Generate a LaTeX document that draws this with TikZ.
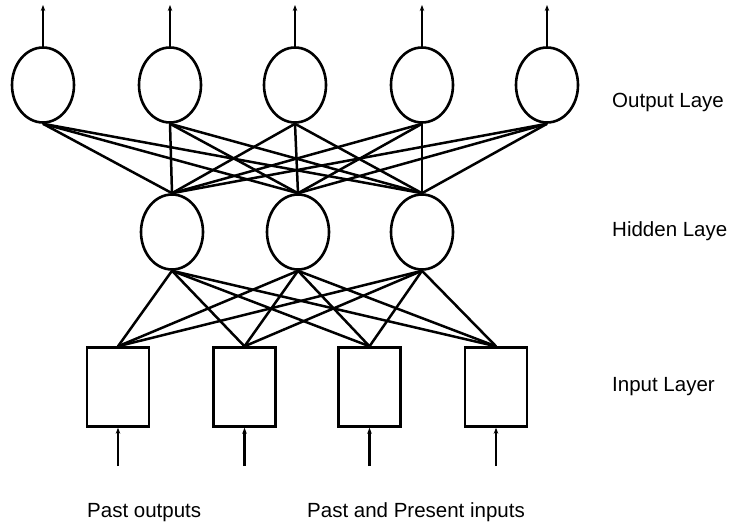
\documentclass[tikz,border=0pt]{standalone}
\usepackage{fontspec}
\setmainfont{Liberation Sans}
\usetikzlibrary{arrows.meta,shapes.geometric}
\begin{document}
\begin{tikzpicture}[x=1pt,y=-1pt,
  neuron/.style={draw,line width=2.6pt,ellipse,minimum width=62pt,minimum height=75pt,inner sep=0pt},
  inbox/.style={draw,line width=2.4pt,rectangle,minimum width=62pt,minimum height=79pt,inner sep=0pt},
  wire/.style={line width=2.5pt},
  sig/.style={line width=2.5pt,-{Stealth[length=6pt,width=4.5pt]}},
  lbl/.style={font=\fontsize{20.5}{24}\selectfont,anchor=base west,inner sep=0pt}]
\useasboundingbox (0,0) rectangle (731,526);
% output layer
\foreach \i/\x in {1/43,2/170,3/295,4/422,5/547}{
  \node[neuron] (o\i) at (\x,85) {};
  \coordinate (ot\i) at (\x,5);
  \draw[sig] (o\i.north) -- (ot\i);
}
% hidden layer
\foreach \i/\x in {1/172,2/298,3/422}{
  \node[neuron] (h\i) at (\x,232) {};
}
% input layer
\foreach \i/\x in {1/118,2/244.5,3/369.5,4/496}{
  \node[inbox] (b\i) at (\x,387) {};
  \coordinate (bi\i) at (\x,466);
  \draw[sig] (bi\i) -- (b\i.south);
}
% connections
\foreach \i in {1,...,5}{
  \foreach \j in {1,2,3}{
    \draw[wire] (o\i.south) -- (h\j.north);
  }
}
\foreach \j in {1,2,3}{
  \foreach \k in {1,...,4}{
    \draw[wire] (h\j.south) -- (b\k.north);
  }
}
% labels
\node[lbl] (lo) at (612,108) {Output Laye};
\node[lbl] (lh) at (612,237) {Hidden Laye};
\node[lbl] (li) at (612,392) {Input Layer};
\node[lbl] (lp) at (87,517) {Past outputs};
\node[lbl] (lq) at (307,517) {Past and Present inputs};
\end{tikzpicture}
\end{document}
